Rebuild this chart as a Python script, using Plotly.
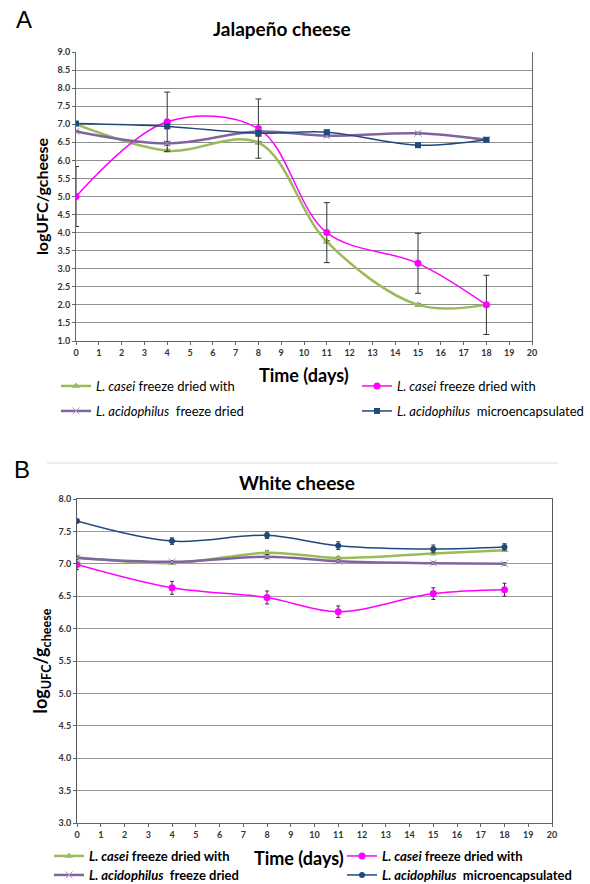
import plotly.graph_objects as go

# ---------------- data ----------------
days = [0, 4, 8, 11, 15, 18]

# Panel A: Jalapeño cheese
a_casei_fd = [7.0, 6.27, 6.49, 3.75, 2.0, 2.0]          # green
a_casei_fd_err = [0.02, 0.03, 0.03, 0.03, 0.03, 0.03]
a_casei_fdw = [5.0, 7.07, 6.88, 4.0, 3.15, 2.0]          # magenta
a_casei_fdw_err = [0.83, 0.82, 0.82, 0.83, 0.83, 0.82]
a_acid_fd = [6.8, 6.47, 6.8, 6.68, 6.75, 6.57]           # purple
a_acid_fd_err = [0.03, 0.05, 0.03, 0.03, 0.03, 0.03]
a_acid_mc = [7.02, 6.94, 6.75, 6.78, 6.42, 6.57]         # navy
a_acid_mc_err = [0.03, 0.05, 0.08, 0.05, 0.05, 0.05]

# Panel B: White cheese
b_casei_fd = [7.1, 7.01, 7.17, 7.09, 7.16, 7.21]
b_casei_fd_err = [0.02, 0.02, 0.03, 0.02, 0.02, 0.02]
b_casei_fdw = [6.99, 6.63, 6.48, 6.26, 6.54, 6.6]
b_casei_fdw_err = [0.08, 0.1, 0.1, 0.09, 0.09, 0.1]
b_acid_fd = [7.09, 7.03, 7.11, 7.04, 7.01, 7.0]
b_acid_fd_err = [0.02, 0.02, 0.03, 0.02, 0.02, 0.02]
b_acid_mc = [7.66, 7.35, 7.44, 7.28, 7.23, 7.26]
b_acid_mc_err = [0.02, 0.05, 0.05, 0.06, 0.06, 0.05]

names = ["<i>L. casei</i> freeze dried with",
         "<i>L. casei</i> freeze dried with",
         "<i>L. acidophilus</i>  freeze dried",
         "<i>L. acidophilus</i>  microencapsulated"]

x_ticks = list(range(0, 21))
a_yticks = [1.0 + 0.5 * i for i in range(17)]
b_yticks = [3.0 + 0.5 * i for i in range(11)]

GREEN = "#9BBB59"
MAGENTA = "#FF00FF"
PURPLE = "#8064A2"
NAVY = "#1F497D"
FONT = "Lato"

W, H = 590, 884


def px(x):
    return x / W


def py(y):
    return 1 - y / H


fig = go.Figure()


def add_panel(xa, ya, vals, errs, legs, mk_navy, errw):
    styles = [
        dict(color=GREEN, width=2.5, symbol="triangle-up", size=7, mcolor=GREEN, mline=0),
        dict(color=MAGENTA, width=1.5, symbol="circle", size=7, mcolor=MAGENTA, mline=0),
        dict(color=PURPLE, width=2.5, symbol="x-thin", size=7, mcolor="#A99BC6", mline=1),
        dict(color=NAVY, width=1.5, symbol=mk_navy, size=6, mcolor=NAVY, mline=0),
    ]
    for i, (v, e, st) in enumerate(zip(vals, errs, styles)):
        fig.add_trace(go.Scatter(
            x=days, y=v, name=names[i], mode="lines+markers",
            xaxis=xa, yaxis=ya, legend=legs[i],
            line=dict(color=st["color"], width=st["width"], shape="spline", smoothing=1.0),
            marker=dict(symbol=st["symbol"], size=st["size"], color=st["mcolor"],
                        line=dict(width=st["mline"], color=st["mcolor"])),
            error_y=dict(type="data", array=e, visible=True, color="#333333",
                         thickness=1, width=errw),
            hoverinfo="skip",
        ))


add_panel("x", "y", [a_casei_fd, a_casei_fdw, a_acid_fd, a_acid_mc],
          [a_casei_fd_err, a_casei_fdw_err, a_acid_fd_err, a_acid_mc_err],
          ["legend", "legend2", "legend3", "legend4"], "square", 3)
add_panel("x2", "y2", [b_casei_fd, b_casei_fdw, b_acid_fd, b_acid_mc],
          [b_casei_fd_err, b_casei_fdw_err, b_acid_fd_err, b_acid_mc_err],
          ["legend5", "legend6", "legend7", "legend8"], "circle", 2)

tick_font = dict(family=FONT, size=9, color="#333333", weight="bold")

common_x = dict(range=[0, 20], tickmode="array", tickvals=x_ticks,
                ticks="outside", ticklen=3, tickcolor="#666666",
                showgrid=False, zeroline=False, showline=True, automargin=False,
                linecolor="#666666", linewidth=1, tickfont=tick_font)

fig.update_layout(
    width=W, height=H,
    margin=dict(l=0, r=0, t=0, b=0, autoexpand=False),
    paper_bgcolor="white", plot_bgcolor="white",
    showlegend=True,
    xaxis=dict(domain=[px(76), px(532)], anchor="y", mirror=False, **common_x),
    yaxis=dict(domain=[py(341), py(52)], anchor="x", range=[1, 9], automargin=False,
               tickmode="array", tickvals=a_yticks,
               ticktext=[f"{v:.1f}" for v in a_yticks],
               ticks="outside", ticklen=3, tickcolor="#666666",
               showgrid=False, zeroline=False, showline=True, mirror=True,
               linecolor="#666666", linewidth=1, tickfont=tick_font,
               minor=dict(tickvals=a_yticks[1:-1], showgrid=True,
                          gridcolor="#8f8f8f", gridwidth=1, ticks=""),
               title=dict(text="logUFC/gcheese", standoff=5,
                          font=dict(family=FONT, size=16, color="black", weight="bold"))),
    xaxis2=dict(domain=[px(77), px(552)], anchor="y2", mirror=True, **common_x),
    yaxis2=dict(domain=[py(823), py(499)], anchor="x2", range=[3, 8], automargin=False,
                tickmode="array", tickvals=b_yticks,
                ticktext=[f"{v:.1f}" for v in b_yticks],
                ticks="outside", ticklen=3, tickcolor="#666666",
                showgrid=False, zeroline=False, showline=True, mirror=True,
                linecolor="#555555", linewidth=1, tickfont=tick_font,
                minor=dict(tickvals=b_yticks[1:-1], showgrid=True,
                           gridcolor="#9a9a9a", gridwidth=1, ticks=""),
                title=dict(text="log<sub>UFC</sub>/g<sub>cheese</sub>", standoff=6,
                           font=dict(family=FONT, size=18, color="black", weight="bold"))),
)

leg_common = dict(orientation="h", bgcolor="rgba(0,0,0,0)",
                  borderwidth=0, xanchor="left", yanchor="middle", itemwidth=30,
                  itemclick=False, itemdoubleclick=False)
fontA = dict(family=FONT, size=13, color="black")
fontB = dict(family=FONT, size=13, color="black", weight="bold")

# legend box left edges (px) and row centres (px)
leg_pos = {
    "legend": (56, 386, fontA), "legend2": (357, 386, fontA),
    "legend3": (56, 411, fontA), "legend4": (357, 411, fontA),
    "legend5": (49, 856, fontB), "legend6": (342, 856, fontB),
    "legend7": (49, 875, fontB), "legend8": (342, 875, fontB),
}
fig.update_layout(**{k: dict(x=px(x), y=py(y), font=f, **leg_common)
                     for k, (x, y, f) in leg_pos.items()})

annotations = [
    dict(text="A", x=px(24), y=py(19), font=dict(family="Liberation Sans", size=24, color="black")),
    dict(text="B", x=px(22), y=py(469), font=dict(family="Liberation Sans", size=24, color="black")),
    dict(text="Jalapeño cheese", x=px(282), y=py(28),
         font=dict(family=FONT, size=19, color="black", weight="bold")),
    dict(text="White cheese", x=px(297), y=py(483),
         font=dict(family=FONT, size=19, color="black", weight="bold")),
    dict(text="Time (days)", x=px(304), y=py(375),
         font=dict(family=FONT, size=18, color="black", weight="bold")),
    dict(text="Time (days)", x=px(299), y=py(858),
         font=dict(family=FONT, size=18, color="black", weight="bold")),
]
for a in annotations:
    a.update(xref="paper", yref="paper", showarrow=False, xanchor="center", yanchor="middle")
fig.update_layout(annotations=annotations)

fig.add_shape(type="line", xref="paper", yref="paper",
              x0=px(47), x1=px(558), y0=py(463), y1=py(463),
              line=dict(color="#dddddd", width=1))

fig.write_html("out.html", config={"displayModeBar": False},
               post_script="document.body.style.margin='0px';")
